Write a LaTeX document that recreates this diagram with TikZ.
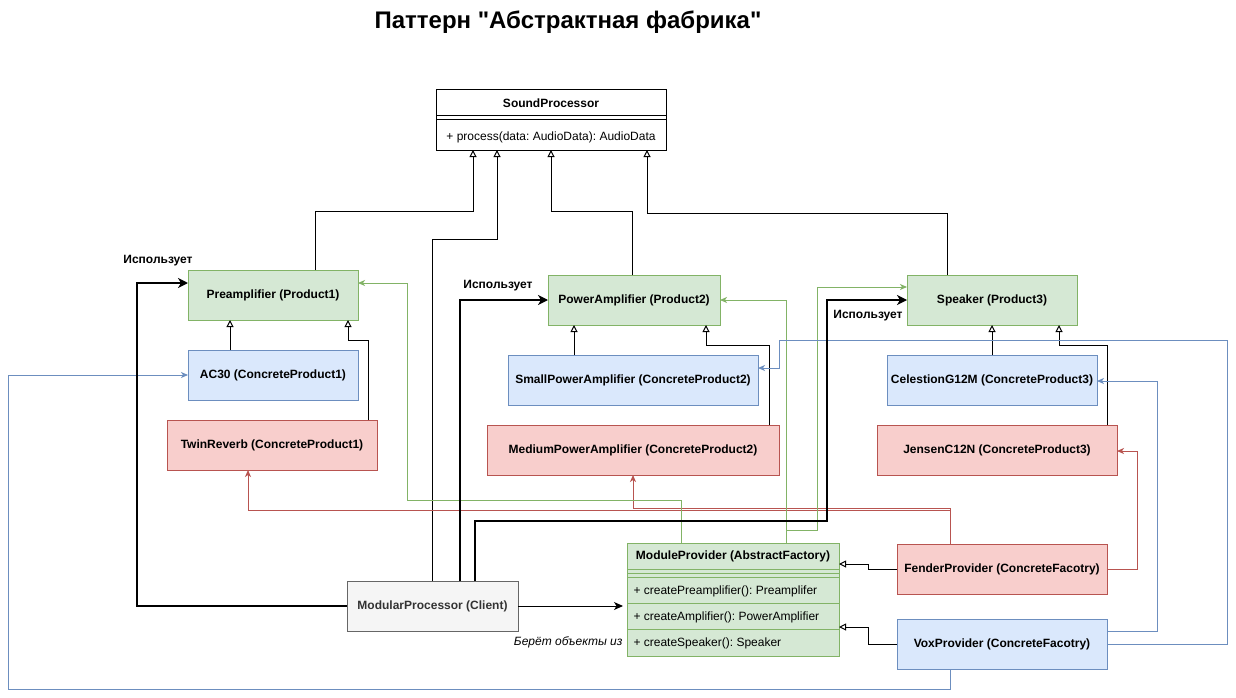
\documentclass[tikz,border=0pt]{standalone}
\usepackage{fontspec}
\setmainfont{Liberation Sans}[Ligatures=TeXOff]
\frenchspacing
\usetikzlibrary{arrows.meta,calc}
\definecolor{gfill}{HTML}{D5E8D4}
\definecolor{gline}{HTML}{82B366}
\definecolor{bfill}{HTML}{DAE8FC}
\definecolor{bline}{HTML}{6C8EBF}
\definecolor{rfill}{HTML}{F8CECC}
\definecolor{rline}{HTML}{B85450}
\definecolor{cfill}{HTML}{F5F5F5}
\definecolor{cline}{HTML}{666666}
\definecolor{ctext}{HTML}{333333}
\begin{document}
\begin{tikzpicture}[x=1pt,y=-1pt,line width=1pt,
  box/.style={draw,anchor=north west,minimum height=50pt,inner sep=0pt,outer sep=0pt,
    font=\fontsize{12}{14}\selectfont\bfseries},
  gbox/.style={box,draw=gline,fill=gfill},
  bbox/.style={box,draw=bline,fill=bfill},
  rbox/.style={box,draw=rline,fill=rfill},
  txt/.style={inner sep=0pt,font=\fontsize{12}{14}\selectfont},
  lbl/.style={inner sep=0pt,font=\fontsize{12}{14}\selectfont\bfseries},
  inh/.style={draw=black,-{Triangle[open,width=7pt,length=7pt]}},
  uses/.style={draw=black,line width=2pt,-{Stealth[length=10pt,width=10pt,inset=3pt]}},
  garr/.style={draw=gline,-{Stealth[length=7pt,width=6pt,inset=2pt]}},
  barr/.style={draw=bline,-{Stealth[length=7pt,width=6pt,inset=2pt]}},
  rarr/.style={draw=rline,-{Stealth[length=7pt,width=6pt,inset=2pt]}},
  carr/.style={draw=black,-{Stealth[length=9pt,width=8pt,inset=2.5pt]}}
]
\useasboundingbox[fill=white] (0,0) rectangle (1236,698);

% title
\node[inner sep=0pt] (title) at (568,22) {\fontsize{24}{28}\selectfont\bfseries Паттерн "Абстрактная фабрика"};

% SoundProcessor class
\node[draw=black,fill=white,anchor=north west,minimum width=230pt,minimum height=60pt,inner sep=0pt,outer sep=0pt] (sp) at (436,90) {};
\draw ($(sp.north west)+(0,26)$) -- ($(sp.north east)+(0,26)$);
\draw ($(sp.north west)+(0,30)$) -- ($(sp.north east)+(0,30)$);
\node[lbl] (sph) at ($(sp.north)+(0,13)$) {SoundProcessor};
\node[txt] (spm) at ($(sp.north)+(0,47)$) {+ process(data: AudioData): AudioData};

% products
\node[gbox,minimum width=170pt] (pre) at (188,270) {Preamplifier (Product1)};
\node[bbox,minimum width=170pt] (ac30) at (188,350) {AC30 (ConcreteProduct1)};
\node[rbox,minimum width=210pt] (twin) at (167,420) {TwinReverb (ConcreteProduct1)};

\node[gbox,minimum width=172pt] (pa) at (548,275) {PowerAmplifier (Product2)};
\node[bbox,minimum width=250pt] (small) at (508,355) {SmallPowerAmplifier (ConcreteProduct2)};
\node[rbox,minimum width=292pt] (med) at (487,425) {MediumPowerAmplifier (ConcreteProduct2)};

\node[gbox,minimum width=170pt] (spk) at (907,275) {Speaker (Product3)};
\node[bbox,minimum width=210pt] (cel) at (887,355) {CelestionG12M (ConcreteProduct3)};
\node[rbox,minimum width=240pt] (jen) at (877,425) {JensenC12N (ConcreteProduct3)};

% factories
\node[rbox,minimum width=210pt] (fen) at (897,544) {FenderProvider (ConcreteFacotry)};
\node[bbox,minimum width=210pt] (vox) at (897,619) {VoxProvider (ConcreteFacotry)};
\node[box,draw=cline,fill=cfill,text=ctext,minimum width=171pt] (cl) at (347,581) {ModularProcessor (Client)};

% ModuleProvider class
\node[draw=gline,fill=gfill,anchor=north west,minimum width=212pt,minimum height=113pt,inner sep=0pt,outer sep=0pt] (mp) at (627,543) {};
\foreach \dy in {26,30,34,60,86}{
  \draw[gline] ($(mp.north west)+(0,\dy)$) -- ($(mp.north east)+(0,\dy)$);
}
\node[lbl] (mph) at ($(mp.north)+(0,13)$) {ModuleProvider (AbstractFactory)};
\node[txt,anchor=west] (m1) at ($(mp.north west)+(6,48)$) {+ createPreamplifier(): Preamplifer};
\node[txt,anchor=west] (m2) at ($(mp.north west)+(6,74)$) {+ createAmplifier(): PowerAmplifier};
\node[txt,anchor=west] (m3) at ($(mp.north west)+(6,100)$) {+ createSpeaker(): Speaker};

% labels
\node[lbl] (u1) at (158,261) {Использует};
\node[lbl] (u2) at (498,286) {Использует};
\node[lbl] (u3) at (868,316) {Использует};
\node[txt,anchor=east,font=\fontsize{12}{14}\selectfont\itshape] (take) at (623,642) {Берёт объекты из};

% inheritance to SoundProcessor
\draw[inh] (pre.north -| 315,0) |- (473,211) -- (sp.south -| 473,0);
\draw[inh] (cl.north -| 432,0) |- (497,239) -- (sp.south -| 497,0);
\draw[inh] (pa.north -| 632,0) |- (551,211) -- (sp.south -| 551,0);
\draw[inh] (spk.north -| 947,0) |- (647,213) -- (sp.south -| 647,0);

% inheritance of concrete products
\draw[inh] (ac30.north -| 230,0) -- (pre.south -| 230,0);
\draw[inh] (twin.north -| 368,0) |- (348,340) -- (pre.south -| 348,0);
\draw[inh] (small.north -| 574,0) -- (pa.south -| 574,0);
\draw[inh] (med.north -| 769,0) |- (706,345) -- (pa.south -| 706,0);
\draw[inh] (cel.north -| 992,0) -- (spk.south -| 992,0);
\draw[inh] (jen.north -| 1107,0) |- (1059,345) -- (spk.south -| 1059,0);

% inheritance of concrete factories
\draw[inh] (fen.west) -| (868,564) -- (mp.east |- 0,564);
\draw[inh] (vox.west) -| (868,627) -- (mp.east |- 0,627);

% colored creation arrows (drawn before thick ones)
\draw[rarr] (fen.north -| 950,0) |- (248,510) -- (twin.south -| 248,0);
\draw[rarr] (fen.north -| 950,0) |- (633,508) -- (med.south -| 633,0);
\draw[rarr] (fen.east) -| (1137,451) -- (jen.east |- 0,451);

\draw[garr] (mp.north -| 681,0) |- (407,500) |- (pre.east |- 0,283);
\draw[garr] (mp.north -| 786,0) |- (pa.east);
\draw[garr] (mp.north -| 786,0) |- (817,530) |- (spk.west |- 0,287);

\draw[barr] (vox.south -| 950,0) |- (8,689) |- (ac30.west);
\draw[barr] (vox.east |- 0,631) -| (1157,381) -- (cel.east |- 0,381);
\draw[barr] (vox.east |- 0,644) -| (1227,340) -| (779,368) -- (small.east |- 0,368);

% client uses
\draw[uses] (cl.west) -| (137,283) -- (pre.west |- 0,283);
\draw[uses] (cl.north -| 460,0) |- (pa.west);
\draw[uses] (cl.north -| 475,0) |- (827,521) |- (spk.west);

% client -> factory
\draw[carr,shorten >=4pt] (cl.east) -- (mp.west |- cl.east);
\end{tikzpicture}
\end{document}
